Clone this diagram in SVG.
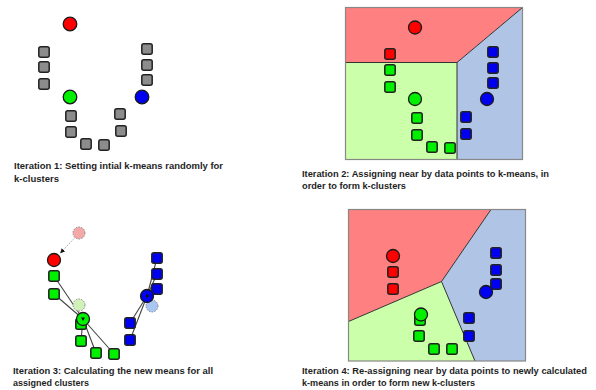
<svg xmlns="http://www.w3.org/2000/svg" xmlns:xlink="http://www.w3.org/1999/xlink" width="596" height="390" viewBox="0 0 596 390">
<style>
.gr{fill:#8c8c8c}
.r{fill:#ff0000}
.g{fill:#00f000}
.b{fill:#0000f0}
use{stroke:#222;stroke-width:1.5}
.c{stroke:#1a1a1a;stroke-width:1.3}
.cap{font-family:"Liberation Sans",Arial,sans-serif;font-weight:bold;font-size:9.5px;fill:#1e1e1e}
.edge{stroke:#333;stroke-width:1;fill:none}
.frame{fill:none;stroke:#888;stroke-width:1.2}
.link{stroke:#444;stroke-width:1.1;fill:none}
.ghost{stroke:#888;stroke-width:1;stroke-dasharray:1.5 1.2}
</style>
<defs>
<rect id="sq" x="-5.2" y="-5.2" width="10.4" height="10.4" rx="2"/>
<marker id="ah" viewBox="0 0 10 10" refX="9" refY="5" markerWidth="6" markerHeight="6" orient="auto"><path d="M0,0 L10,5 L0,10 z" fill="#111"/></marker>
</defs>

<g id="panel1">
<g id="p1-points">
<use href="#sq" x="44" y="52" class="gr"/>
<use href="#sq" x="44" y="67" class="gr"/>
<use href="#sq" x="44" y="84" class="gr"/>
<use href="#sq" x="147" y="49" class="gr"/>
<use href="#sq" x="147" y="65" class="gr"/>
<use href="#sq" x="147" y="80" class="gr"/>
<use href="#sq" x="71" y="116" class="gr"/>
<use href="#sq" x="71" y="132" class="gr"/>
<use href="#sq" x="86" y="144" class="gr"/>
<use href="#sq" x="104" y="145" class="gr"/>
<use href="#sq" x="120" y="114" class="gr"/>
<use href="#sq" x="121" y="131" class="gr"/>
</g>
<g id="p1-red"><circle cx="70" cy="24" r="6.8" class="r c"/></g>
<g id="p1-green"><circle cx="70" cy="97" r="6.8" class="g c"/></g>
<g id="p1-blue"><circle cx="142" cy="97" r="6.8" class="b c"/></g>
<text class="cap" x="14" y="169" textLength="209" lengthAdjust="spacingAndGlyphs">Iteration 1: Setting intial k-means randomly for</text>
<text class="cap" x="14" y="182" textLength="45" lengthAdjust="spacingAndGlyphs">k-clusters</text>
</g>

<g id="panel2">
<polygon points="345.5,7.5 522.5,7.5 457,62.5 345.5,62.5" fill="#ff8080"/>
<polygon points="345.5,62.5 457,62.5 457,159.5 345.5,159.5" fill="#ccffaa"/>
<polygon points="457,62.5 522.5,7.5 522.5,159.5 457,159.5" fill="#b0c4e6"/>
<path class="edge" d="M345.5,62.5 H457 L522.5,7.5 M457,62.5 V159.5"/>
<rect class="frame" x="345.5" y="7.5" width="177" height="152"/>
<g id="p2-points">
<use href="#sq" x="390" y="54" class="r"/>
<use href="#sq" x="390" y="70" class="g"/>
<use href="#sq" x="390" y="87" class="g"/>
<use href="#sq" x="417" y="118" class="g"/>
<use href="#sq" x="417" y="135" class="g"/>
<use href="#sq" x="432" y="147" class="g"/>
<use href="#sq" x="450" y="148" class="g"/>
<use href="#sq" x="493" y="52" class="b"/>
<use href="#sq" x="493" y="68" class="b"/>
<use href="#sq" x="493" y="83" class="b"/>
<use href="#sq" x="466" y="117" class="b"/>
<use href="#sq" x="466" y="134" class="b"/>
</g>
<g id="p2-red"><circle cx="415" cy="27.5" r="6.5" class="r c"/></g>
<g id="p2-green"><circle cx="415" cy="99" r="6.5" class="g c"/></g>
<g id="p2-blue"><circle cx="487" cy="99" r="6.5" class="b c"/></g>
<text class="cap" x="302" y="177" textLength="247" lengthAdjust="spacingAndGlyphs">Iteration 2: Assigning near by data points to k-means, in</text>
<text class="cap" x="302" y="189" textLength="104" lengthAdjust="spacingAndGlyphs">order to form k-clusters</text>
</g>

<g id="panel3">
<g id="p3-connectors">
<line class="link" x1="54" y1="276" x2="83" y2="319"/>
<line class="link" x1="54" y1="294" x2="83" y2="319"/>
<line class="link" x1="81" y1="341" x2="83" y2="319"/>
<line class="link" x1="96" y1="353" x2="83" y2="319"/>
<line class="link" x1="114" y1="354" x2="83" y2="319"/>
<line class="link" x1="157" y1="258" x2="147" y2="296"/>
<line class="link" x1="157" y1="274" x2="147" y2="296"/>
<line class="link" x1="157" y1="289" x2="147" y2="296"/>
<line class="link" x1="130" y1="323" x2="147" y2="296"/>
<line class="link" x1="130" y1="340" x2="147" y2="296"/>
<line x1="75" y1="237.5" x2="60.5" y2="253" stroke="#999" stroke-width="0.8" stroke-dasharray="1.5 1" marker-end="url(#ah)"/>
</g>
<g id="p3-old-red"><circle cx="79" cy="233" r="6" fill="#f5a8a8" class="ghost"/></g>
<g id="p3-old-green"><circle cx="79" cy="305" r="6" fill="#d0f2b8" class="ghost"/></g>
<g id="p3-old-blue"><circle cx="152" cy="306" r="6" fill="#a9c6f2" class="ghost"/></g>
<g id="p3-points">
<use href="#sq" x="54" y="276" class="g"/>
<use href="#sq" x="54" y="294" class="g"/>
<use href="#sq" x="81" y="324" class="g"/>
<use href="#sq" x="81" y="341" class="g"/>
<use href="#sq" x="96" y="353" class="g"/>
<use href="#sq" x="114" y="354" class="g"/>
<use href="#sq" x="157" y="258" class="b"/>
<use href="#sq" x="157" y="274" class="b"/>
<use href="#sq" x="157" y="289" class="b"/>
<use href="#sq" x="130" y="323" class="b"/>
<use href="#sq" x="130" y="340" class="b"/>
</g>
<g id="p3-red"><circle cx="54" cy="260" r="6.5" class="r c"/></g>
<g id="p3-green"><circle cx="83" cy="319" r="6.5" class="g c"/><path d="M81,317.5 L85,317.5 L83,321 z" fill="#111"/></g>
<g id="p3-blue"><circle cx="147" cy="296" r="6.5" class="b c"/><path d="M146,294 L149.5,296 L146,298 z" fill="#111"/></g>
<text class="cap" x="13" y="374" textLength="200" lengthAdjust="spacingAndGlyphs">Iteration 3: Calculating the new means for all</text>
<text class="cap" x="13" y="386" textLength="76" lengthAdjust="spacingAndGlyphs">assigned clusters</text>
</g>

<g id="panel4">
<polygon points="348.5,209.5 491,209.5 441.5,281.5 348.5,321.5" fill="#ff8080"/>
<polygon points="348.5,321.5 441.5,281.5 475,361 348.5,361" fill="#ccffaa"/>
<polygon points="491,209.5 525.5,209.5 525.5,361 475,361 441.5,281.5" fill="#b0c4e6"/>
<path class="edge" d="M348.5,321.5 L441.5,281.5 L491,209.5 M441.5,281.5 L475,361"/>
<rect class="frame" x="348.5" y="209.5" width="177" height="151.5"/>
<g id="p4-points">
<use href="#sq" x="393" y="272" class="r"/>
<use href="#sq" x="393" y="289" class="r"/>
<use href="#sq" x="420" y="320" class="g"/>
<use href="#sq" x="419" y="336" class="g"/>
<use href="#sq" x="434" y="349" class="g"/>
<use href="#sq" x="452" y="349" class="g"/>
<use href="#sq" x="496" y="253" class="b"/>
<use href="#sq" x="496" y="270" class="b"/>
<use href="#sq" x="496" y="284" class="b"/>
<use href="#sq" x="469" y="318" class="b"/>
<use href="#sq" x="469" y="336" class="b"/>
</g>
<g id="p4-red"><circle cx="393" cy="256" r="6.5" class="r c"/></g>
<g id="p4-green"><circle cx="421" cy="314.5" r="6.5" class="g c"/></g>
<g id="p4-blue"><circle cx="486" cy="292" r="6.5" class="b c"/></g>
<text class="cap" x="302" y="374" textLength="285" lengthAdjust="spacingAndGlyphs">Iteration 4: Re-assigning near by data points to newly calculated</text>
<text class="cap" x="302" y="386" textLength="173" lengthAdjust="spacingAndGlyphs">k-means in order to form new k-clusters</text>
</g>
</svg>
